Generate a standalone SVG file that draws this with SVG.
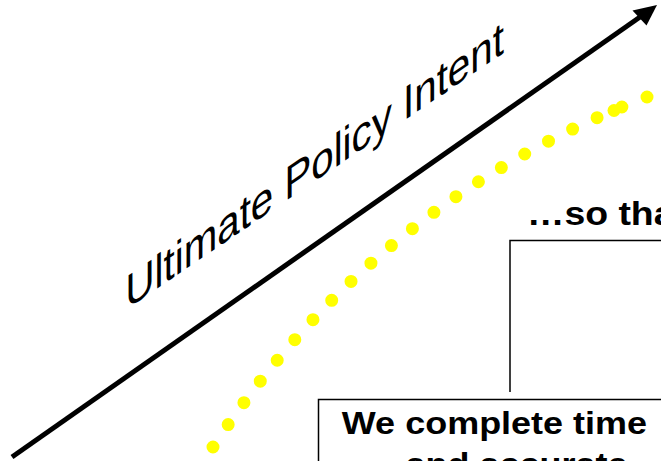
<svg xmlns="http://www.w3.org/2000/svg" width="661" height="461" viewBox="0 0 661 461">
  <style>
    .bold { font-family: "Liberation Sans", Arial, sans-serif; font-weight: bold; fill: #000; }
    .axis-label { font-family: "Liberation Sans", Arial, sans-serif; font-size: 43px; fill: #000; }
    .frame { fill: #fff; stroke: #000; stroke-width: 1.5; }
    .link { fill: none; stroke: #000; stroke-width: 1.5; }
    .dots { fill: none; stroke: #ffff00; stroke-width: 13; stroke-linecap: round; stroke-dasharray: 0 1; }
    .dot { fill: #ffff00; }
  </style>

  <rect width="661" height="461" fill="#fff"/>

  <!-- Main axis arrow -->
  <g id="intent-axis">
    <line x1="12" y1="457" x2="640" y2="17" stroke="#000" stroke-width="5"/>
    <polygon points="657,5 632.5,10.5 646.5,25.5" fill="#000"/>
    <!-- label slanted up along the axis (vertical shear, strokes stay upright) -->
    <text class="axis-label" transform="matrix(0.937 -0.637 0 1.1 125.5 309.9)">Ultimate Policy Intent</text>
  </g>

  <!-- Yellow dotted trajectory -->
  <g id="trajectory">
    <path class="dots" d="M213,447 Q375,201 647,97" pathLength="21"/>
    <circle class="dot" cx="614" cy="110.5" r="6.5"/>
    <circle class="dot" cx="647" cy="97" r="6.5"/>
  </g>

  <!-- Outcome heading -->
  <g id="outcome">
    <text class="bold" font-size="34" transform="translate(527,225) scale(1.1,1)">…so tha</text>
  </g>

  <!-- Connectors -->
  <g id="connectors">
    <path class="link" d="M510,392 V240.5 H661"/>
  </g>

  <!-- Activity box -->
  <g id="activity">
    <rect class="frame" x="318.5" y="399.5" width="360" height="80"/>
    <text class="bold" font-size="32" transform="translate(341.8,434) scale(1.125,1)">We complete time</text>
    <text class="bold" font-size="32" transform="translate(405.6,475) scale(1.125,1)">and accurate</text>
  </g>
</svg>
